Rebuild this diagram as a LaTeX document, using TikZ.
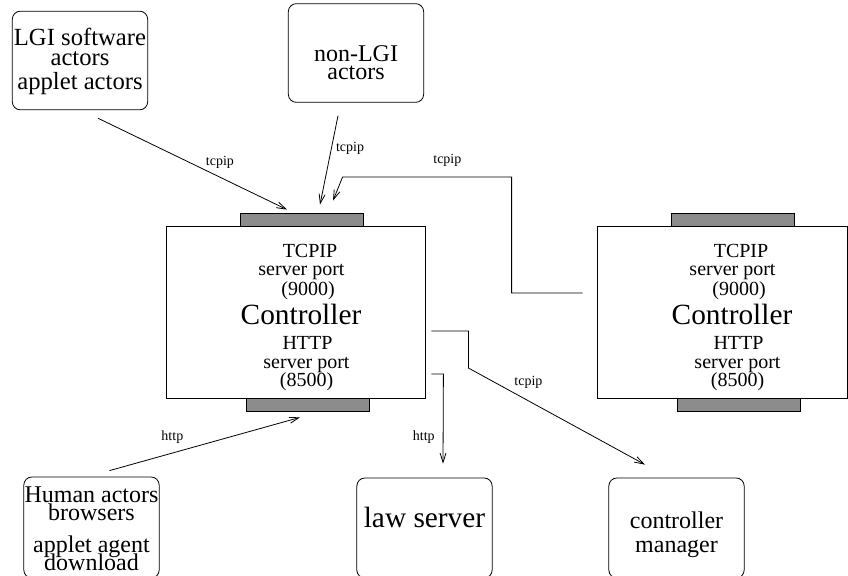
\documentclass[tikz,border=0pt]{standalone}
\usepackage{fontspec}
\setmainfont{Liberation Serif}
\usetikzlibrary{arrows.meta,positioning,calc}
\definecolor{portgrey}{HTML}{8C8C8C}
\tikzset{
  actorbox/.style  = {draw, rounded corners=6pt, line width=0.6pt, inner sep=0pt,
                      minimum width=101.5pt, minimum height=74pt},
  ctlbox/.style    = {draw, line width=0.6pt, inner sep=0pt, minimum height=129pt},
  portbar/.style   = {draw, fill=portgrey, line width=0.6pt, inner sep=0pt,
                      minimum width=92.25pt, minimum height=9.75pt},
  boxtext/.style   = {align=center, inner sep=0pt},
  porttext/.style  = {anchor=base, inner sep=0pt, font=\fontsize{15}{18}\selectfont},
  ctltext/.style   = {anchor=base, inner sep=0pt, font=\fontsize{22}{26}\selectfont},
  wirelabel/.style = {font=\fontsize{10.5}{12}\selectfont, inner sep=1pt},
  flow/.style      = {-{Straight Barb[length=7pt,width=4.5pt]}, line width=0.6pt},
}

\begin{document}
\begin{tikzpicture}[x=0.75pt,y=-0.75pt]
  \useasboundingbox (0,0) rectangle (848,575);

  % actors and servers
  \node[actorbox] (lgi) at (80,60.5) {};
  \node[boxtext,font=\fontsize{18.5}{14.5}\selectfont] (lgitxt) at (80,61.5)
    {LGI software\\actors\\[3.5pt]applet actors};
  \node[actorbox] (nonlgi) at (356,53) {};
  \node[boxtext,font=\fontsize{18}{13.75}\selectfont] (nonlgitxt) at (356,62.5)
    {non-LGI\\actors};
  \node[actorbox,minimum height=75.75pt] (human) at (91.5,527.5) {};
  \node[boxtext,font={\fontsize{18}{13.75}\selectfont\lineskiplimit -20pt}] (humantxt) at (91.5,529)
    {Human actors\\browsers\\[10pt]applet agent\\download};
  \node[actorbox,minimum height=75pt] (law) at (424.5,528) {};
  \node[boxtext,font=\fontsize{22}{26}\selectfont] (lawtxt) at (424.5,517) {law server};
  \node[actorbox,minimum height=75pt] (cmgr) at (676.5,528) {};
  \node[boxtext,font=\fontsize{18}{18}\selectfont] (cmgrtxt) at (676.5,534.5)
    {controller\\manager};

  % the two controllers with their ports
  \node[portbar] (portLt) at (301.5,219.5) {};
  \node[portbar] (portLb) at (307.5,404.5) {};
  \node[portbar] (portRt) at (732.5,219.5) {};
  \node[portbar] (portRb) at (738.5,405) {};
  \node[ctlbox,minimum width=194.25pt] (ctlL) at (295.5,312) {};
  \node[ctlbox,minimum width=187.5pt] (ctlR) at (722,312.5) {};

  \node[porttext] (tcpL)   at (310,257.5)   {TCPIP};
  \node[porttext] (spL)    at (301.5,275)   {server port};
  \node[porttext] (numL)   at (308,295.5)   {(9000)};
  \node[ctltext]  (nameL)  at (301,324)     {Controller};
  \node[porttext] (httpL)  at (307.5,349)   {HTTP};
  \node[porttext] (hspL)   at (306.5,368)   {server port};
  \node[porttext] (hnumL)  at (306.5,386)   {(8500)};

  \node[porttext] (tcpR)   at (741,257.5)   {TCPIP};
  \node[porttext] (spR)    at (732.5,275)   {server port};
  \node[porttext] (numR)   at (739,295.5)   {(9000)};
  \node[ctltext]  (nameR)  at (732,324)     {Controller};
  \node[porttext] (httpR)  at (738.5,349)   {HTTP};
  \node[porttext] (hspR)   at (737.5,368)   {server port};
  \node[porttext] (hnumR)  at (737.5,386)   {(8500)};

  % connections
  \draw[flow] ([shift={(18,8)}]lgi.south)
    -- node[wirelabel,pos=0.645,yshift=11.25pt]{tcpip} ([shift={(-14.5,-3)}]portLt.north);
  \draw[flow] ([shift={(-18,13)}]nonlgi.south)
    -- node[wirelabel,pos=0.37,xshift=14pt]{tcpip} ([shift={(18.5,-8)}]portLt.north);
  \draw[flow] ([shift={(-14,-19.5)}]ctlR.west) -- ++(-71,0) -- ++(0,-116)
    -- node[wirelabel,pos=0.38,yshift=12.75pt]{tcpip} ++(-169,0)
    -- ([shift={(31.5,-12)}]portLt.north);
  \draw[flow] ([shift={(6,19)}]ctlL.east) -- ++(37,0) -- ++(0,37)
    -- node[wirelabel,pos=0.34,yshift=14pt]{tcpip} ([shift={(-31.5,-13)}]cmgr.north);
  \draw[flow] ([shift={(6,62)}]ctlL.east) -- ++(12,0)
    -- node[wirelabel,pos=0.7,left=5pt]{http} ([shift={(18.5,-14)}]law.north);
  \draw[flow] ([shift={(18,-6)}]human.north)
    -- node[wirelabel,pos=0.33,yshift=12pt]{http} ([shift={(-7.5,6)}]portLb.south);
\end{tikzpicture}
\end{document}
